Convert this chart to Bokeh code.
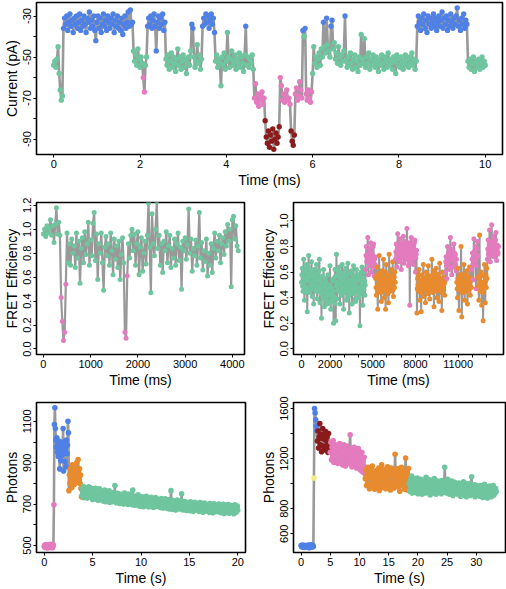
from bokeh.plotting import figure
from bokeh.layouts import column, row
from bokeh.models import FixedTicker, ColumnDataSource, Range1d
from bokeh.embed import file_html
from bokeh.resources import INLINE

# ---------------- data ----------------
COLORS = {"G": "#6FC59E", "B": "#4F80E6", "P": "#E37BBE",
          "R": "#8B1A1A", "O": "#E88B2E", "Y": "#F2EE7C"}

# Panel 1: current (pA), sampled every 0.025 ms
P1_STEP = 0.025
P1_SEGMENTS = [
    ("G", [-54, -52, -55, -51, -45, -58, -66, -71, -69]),
    ("B", [-36, -31, -34, -30, -37, -33, -29, -35, -32, -38,
           -31, -34, -30, -36, -33, -29, -37, -32, -35, -30,
           -34, -38, -31, -33, -28, -36, -32, -35, -30, -37,
           -42, -33, -30, -36, -31, -38, -34, -29, -35, -32,
           -37, -30, -33, -36, -31, -34, -29, -38, -32, -35,
           -30, -36, -33, -37, -31, -39, -34, -30, -36, -33,
           -28, -35, -27, -34, -33]),
    ("G", [-47, -52, -49, -54, -46, -51, -55, -50, -53]),
    ("P", [-60, -67]),
    ("G", [-54, -50]),
    ("B", [-35, -31, -34, -30, -36, -32, -29, -35, -47, -33, -30, -36, -31, -34, -29, -37, -33]),
    ("G", [-51, -54, -49, -56, -52, -48, -55, -50, -53, -57, -51, -46, -54, -50, -56, -52,
           -49, -55, -51, -58, -53, -50, -54, -47]),
    ("B", [-34, -36]),
    ("G", [-50, -55, -52, -44, -53, -49, -56, -51]),
    ("B", [-35, -31, -34, -29, -33, -30, -36, -32, -29, -34, -31, -38]),
    ("G", [-52, -49, -55, -51, -53, -64, -50, -54, -48, -56, -52, -38, -50, -55, -51, -47,
           -54, -52, -49, -56, -51, -53, -48, -55, -50, -53, -57, -49]),
    ("B", [-35]),
    ("G", [-54, -50, -55, -51, -53, -49, -56]),
    ("P", [-70, -63, -72, -68, -74, -69, -71, -67, -73, -70]),
    ("R", [-81, -89, -92, -86, -94, -88, -91, -85, -95, -90, -87, -92, -89, -84]),
    ("P", [-60, -64, -71, -68, -72, -69, -66, -71, -70, -73]),
    ("R", [-86, -91, -93, -88]),
    ("P", [-68, -65, -71, -69, -62, -66, -70]),
    ("B", [-37]),
    ("G", [-40]),
    ("B", [-36]),
    ("P", [-68, -71, -66, -70, -72, -67]),
    ("G", [-58, -45, -53, -50, -55, -51, -48, -54, -46, -50]),
    ("B", [-33]),
    ("G", [-45, -48]),
    ("B", [-31]),
    ("G", [-44, -47, -50]),
    ("B", [-35, -32]),
    ("G", [-46, -43, -51, -48, -53, -45, -50, -54, -49, -52, -47]),
    ("B", [-30]),
    ("G", [-52, -55, -50, -54, -48, -53, -56, -51, -49, -55,
           -52, -57, -50, -54, -39, -51, -53, -41, -55, -50,
           -53, -48, -56, -51, -54, -49, -52, -55, -50, -53,
           -57, -51, -54, -49, -53, -56, -50, -52, -55, -48,
           -54, -51, -53, -56, -50, -52, -58, -49, -54, -51,
           -55, -50, -53, -56, -52, -49, -54, -51, -55, -50,
           -53, -48, -54, -51, -56, -52]),
    ("B", [-35, -30, -33, -37, -31, -34, -29, -36, -32, -38,
           -30, -34, -31, -36, -33, -29, -35, -31, -37, -33,
           -30, -35, -32, -28, -36, -31, -34, -30, -37, -32,
           -35, -29, -33, -36, -31, -34, -30, -26, -35, -32,
           -37, -31, -34, -29, -36, -32, -34]),
    ("G", [-52, -55, -51, -56, -53, -50, -57, -54, -52, -55, -51, -56, -53, -50, -55, -52, -54]),
]
P1_XTICKS = [0, 2, 4, 6, 8, 10]
P1_XLABELS = ["0", "2", "4", "6", "8", "10"]
P1_YTICKS = [-90, -80, -70, -60, -50, -40, -30]
P1_YLABELS = ["-90", "", "-70", "", "-50", "", "-30"]

# Panel 2: FRET efficiency (x100), every 25 ms
P2_STEP = 25
P2_SEGMENTS = [
    ("G", [96, 100, 94, 103, 97, 101, 108, 95, 103, 89, 104, 118, 96, 106, 95]),
    ("P", [43, 23, 7, 14, 54]),
    ("G", [97, 72, 88, 70, 92, 80, 86, 68, 97, 76, 90, 55, 84, 93, 72, 98, 79, 88, 106, 70,
           91, 78, 105, 114, 74, 96, 58, 88, 80, 97, 72, 49, 85, 94, 78, 88, 70, 97, 82, 62,
           92, 75, 86, 68, 90, 58, 79, 93, 72]),
    ("P", [14, 9, 61]),
    ("G", [88, 76, 95, 100, 82, 96, 70, 88, 98, 62, 85, 93, 65, 80, 90, 71, 95, 122,
           85, 47, 113, 88, 78, 100, 123, 84, 95, 70, 88, 64, 90, 82, 98, 72, 86, 95, 68, 84,
           76, 92, 70, 88, 97, 74, 85, 50, 90, 82, 93, 75, 87, 117, 80, 92, 65, 84, 78, 91,
           70, 86, 114, 76, 89, 66, 82, 73, 92, 61, 80, 70, 88, 64, 84, 97, 76, 90, 82, 95,
           72, 88, 93, 79, 98, 86, 104, 90, 100, 52, 108, 111, 92, 103, 86, 82]),
]
P2_XTICKS = [0, 1000, 2000, 3000, 4000]
P2_XLABELS = ["0", "1000", "2000", "3000", "4000"]
P2_YTICKS = [0.0, 0.2, 0.4, 0.6, 0.8, 1.0, 1.2]
P2_YLABELS = ["0.0", "0.2", "0.4", "0.6", "0.8", "1.0", "1.2"]

# Panel 3: FRET efficiency (x100), every 25 ms
P3_STEP = 25
P3_SEGMENTS = [
    ("G", [52, 58, 63, 49, 45, 56, 70, 51, 38, 60, 55, 44, 48, 62, 66, 53, 29, 47, 58, 64,
           73, 55, 44, 59, 60, 46, 50, 57, 68, 52, 41, 61, 57, 48, 35, 54, 62, 50, 47, 58,
           54, 45, 66, 53, 39, 56, 59, 49, 45, 61, 70, 47, 36, 55, 52, 43, 24, 50, 48, 57,
           40, 51, 62, 44, 33, 49, 55, 39, 38, 52, 46, 41, 35, 47, 58, 43, 42, 36, 37, 50,
           65, 42, 31, 48, 44, 38, 37, 54, 53, 45, 20, 40, 41, 56, 62, 35, 22, 49, 74, 52,
           39, 58, 57, 46, 45, 60, 64, 50, 35, 55, 51, 44, 42, 59, 66, 47, 48, 53, 31, 57,
           56, 49, 44, 61, 63, 52, 38, 47, 52, 58, 67, 45, 41, 54, 28, 50, 59, 43, 46, 60,
           61, 52, 35, 48, 54, 57, 65, 46, 43, 55, 50, 39, 37, 53, 62, 49, 47, 58, 56, 44,
           40, 55, 58, 47, 18, 43, 53, 60, 45, 51, 64, 49, 34, 56, 51, 46, 60, 53, 42, 50]),
    ("P", [62, 73, 80, 68, 71, 79, 87, 74, 58, 70, 76, 65, 66, 78, 83, 71, 60, 75, 74, 68,
           69, 80, 82, 64, 57, 70, 72, 66]),
    ("O", [55, 48, 42, 57, 64, 50, 31, 45, 50, 59, 73, 54, 46, 52, 58, 44, 37, 51, 61, 47,
           48, 56, 70, 53, 40, 49, 53, 60, 31, 46, 66, 55, 44, 50, 57, 43, 36, 52, 74, 58,
           52, 47, 45, 55, 62, 51, 49, 57, 68, 46, 41, 53, 56, 48, 60, 52]),
    ("P", [70, 76, 82, 73, 64, 78, 90, 80, 75, 69, 68, 77, 86, 74, 78, 83, 62, 71, 80, 75,
           73, 79, 88, 72, 67, 76, 77, 82, 84, 73, 70, 78, 94, 81, 79, 70, 65, 76, 83, 72,
           34, 68, 76, 81, 87, 74, 72, 79, 81, 70, 66, 75, 78, 83, 85, 72, 60, 71, 74, 77]),
    ("O", [28, 47, 55, 50, 45, 58, 62, 49, 38, 53, 51, 44, 29, 48, 58, 54, 47, 56, 66, 50,
           41, 52, 54, 46, 36, 51, 60, 55, 49, 44, 43, 57, 65, 50, 52, 46, 39, 53, 57, 48,
           46, 55, 70, 52, 44, 58, 61, 47, 33, 50, 55, 45, 48, 59, 63, 51, 40, 47, 52, 56,
           58, 49, 37, 51, 67, 54, 45, 50, 53, 44, 30, 48, 60, 55, 49, 46, 56, 51, 42, 53]),
    ("P", [60, 68, 72, 65, 55, 70, 80, 73, 66, 75, 76, 69, 62, 74, 87, 77, 70, 64, 58, 71,
           78, 72, 64, 70, 82, 75, 68, 73, 74, 66, 61, 70]),
    ("O", [52, 47, 40, 55, 63, 50, 30, 46, 55, 58, 47, 53, 80, 57, 25, 44, 58, 51, 44, 54,
           66, 50, 38, 47, 53, 58, 49, 45, 61, 52, 35, 48, 57, 51, 46, 55, 64, 49, 42, 53,
           55, 48]),
    ("P", [62, 70, 75, 66, 54, 72, 86, 76, 68, 74, 80, 69, 47, 65, 72, 78, 84, 73]),
    ("O", [56, 49, 38, 55, 89, 52, 45, 58, 60, 47, 34, 50, 52, 44, 22, 46, 48, 57, 66, 51,
           36, 53, 58, 48, 63, 55]),
    ("P", [70, 78, 85, 74, 76, 82, 93, 79, 68, 76, 80, 73, 97, 84, 74, 80, 88, 77, 72, 81,
           83, 76, 78, 85, 91, 79, 69, 77, 81, 74, 75, 80]),
]
P3_XTICKS = [0, 1000, 2000, 3000, 4000, 5000, 6000, 7000, 8000, 9000, 10000, 11000, 12000, 13000]
P3_XLABELS = ["0", "", "2000", "", "", "5000", "", "", "8000", "", "", "11000", "", ""]
P3_YTICKS = [0.0, 0.2, 0.4, 0.6, 0.8, 1.0]
P3_YLABELS = ["0.0", "0.2", "0.4", "0.6", "0.8", "1.0"]

# Panel 4: photons, every 0.05 s
P4_STEP = 0.05
P4_SEGMENTS = [
    ("P", [495, 502, 490, 498, 505, 493, 500, 488, 497, 503, 492, 499, 506, 491, 500, 494,
           504, 489, 498, 502, 697]),
    ("B", [1085, 1166, 1065, 1010, 975, 1020, 950, 990, 930, 1005, 945, 870, 965, 910, 1000,
           935, 985, 940, 1065, 860, 955, 1000, 905, 970, 880, 1010, 945, 985, 1100, 1045]),
    ("O", [765, 840, 800, 870, 820, 855, 780, 890, 835, 810, 860, 795, 875, 825, 845, 805,
           900, 830, 815, 915, 850, 820, 870, 800, 840, 775, 735]),
    ("G", [740, 772, 758, 785, 731, 766, 749, 780, 738, 762, 775, 729, 757, 744, 783, 752, 736, 769, 747, 778,
           733, 764, 722, 771, 748, 729, 760, 741, 776, 725, 755, 737, 768, 719, 752, 744, 774, 731, 759, 726,
           747, 721, 762, 735, 715, 754, 728, 768, 740, 712, 751, 733, 759, 718, 745, 726, 764, 709, 739, 750,
           722, 748, 711, 740, 727, 756, 715, 733, 790, 720, 745, 707, 738, 724, 752, 714, 730, 744, 703, 736,
           718, 747, 709, 735, 722, 741, 700, 728, 753, 712, 730, 705, 744, 717, 736, 698, 726, 748, 711, 733,
           704, 729, 715, 742, 697, 768, 720, 708, 734, 695, 723, 711, 739, 701, 726, 716, 745, 692, 719, 731,
           700, 725, 690, 718, 735, 703, 714, 687, 729, 708, 696, 722, 711, 738, 693, 716, 705, 727, 686, 713,
           721, 698, 710, 733, 689, 715, 702, 726, 684, 708, 719, 695, 731, 700, 712, 688, 724, 706, 693, 717,
           696, 720, 683, 709, 727, 690, 714, 700, 681, 718, 705, 693, 725, 687, 711, 698, 716, 679, 703, 721,
           692, 712, 676, 705, 765, 688, 700, 718, 674, 694, 709, 683, 714, 697, 671, 706, 690, 720, 680, 701,
           688, 710, 676, 699, 716, 683, 750, 693, 707, 672, 698, 685, 712, 679, 702, 690, 669, 708, 684, 696,
           680, 703, 692, 668, 711, 686, 698, 674, 705, 689, 665, 700, 683, 709, 677, 694, 671, 702, 687, 697,
           676, 699, 665, 690, 707, 681, 694, 670, 702, 684, 661, 696, 679, 705, 673, 688, 667, 698, 682, 692,
           672, 695, 684, 660, 703, 678, 690, 667, 699, 681, 658, 693, 675, 701, 670, 686, 663, 697, 680, 689,
           669, 692, 676, 700, 662, 686, 673, 696, 658, 683, 690, 666, 699, 677, 655, 688, 671, 694, 680, 664,
           685, 667, 698, 672, 656, 689, 676, 694, 660, 681, 670, 692, 665, 687, 653, 679, 696, 668, 684, 662,
           678, 690, 670]),
]
P4_XTICKS = [0, 5, 10, 15, 20]
P4_XLABELS = ["0", "5", "10", "15", "20"]
P4_YTICKS = [500, 600, 700, 800, 900, 1000, 1100]
P4_YLABELS = ["500", "", "700", "", "900", "", "1100"]

# Panel 5: photons, every 0.1 s
P5_STEP = 0.1
P5_SEGMENTS = [
    ("B", [505, 496, 510, 493, 502, 508, 491, 500, 506, 497, 503, 494, 509, 499, 488, 504,
           497, 511, 492, 501, 507, 498]),
    ("Y", [1045]),
    ("B", [1600, 1565, 1510, 1460, 1425]),
    ("R", [1340, 1420, 1285, 1375, 1480, 1310, 1395, 1255, 1360, 1440, 1300, 1385, 1270,
           1350, 1415, 1295, 1370, 1330, 1250, 1400, 1320, 1280]),
    ("P", [1250, 1330, 1190, 1290, 1215, 1345, 1170, 1270, 1235, 1310,
           1180, 1300, 1225, 1160, 1285, 1240, 1320, 1175, 1260, 1205,
           1295, 1150, 1245, 1310, 1195, 1270, 1140, 1230, 1300, 1185,
           1255, 1215, 1160, 1280, 1390, 1200, 1245, 1135, 1275, 1220,
           1170, 1290, 1205, 1150, 1260, 1125, 1235, 1190, 1280, 1145,
           1225, 1110, 1200, 1160, 1250, 1095, 1185, 1140, 1210, 1080]),
    ("O", [1040, 1110, 985, 1070, 1130, 1005, 1085, 960, 1050, 1120,
           995, 1065, 1140, 975, 1035, 1095, 955, 1060, 1015, 1105,
           980, 1075, 1030, 1125, 945, 1055, 1090, 1000, 1150, 970,
           1045, 1115, 990, 1080, 1020, 960, 1100, 1035, 1135, 980,
           1060, 1010, 1095, 950, 1070, 1125, 1000, 1050, 1085, 965,
           1040, 1235, 1010, 1110, 975, 1065, 1120, 995, 1055, 940,
           1090, 1025, 1130, 985, 1060, 1005, 1100, 955, 1045, 1205,
           1000, 1080, 950, 1040, 1120]),
    ("G", [1000, 940, 1030, 965, 1060, 925, 985, 1015, 950, 1040,
           975, 930, 1010, 960, 1045, 920, 995, 1025, 945, 980,
           1035, 955, 915, 990, 1020, 940, 1005, 965, 925, 1050,
           970, 1010, 935, 985, 950, 1030, 910, 995, 960, 1015,
           945, 980, 925, 1040, 965, 1000, 915, 985, 950, 1020,
           930, 975, 1005, 940, 990, 920, 1025, 960, 1000, 935,
           985, 1130, 950, 1010, 925, 970, 1035, 945, 990, 915,
           1000, 955, 930, 1020, 965, 905, 985, 945, 1010, 925,
           970, 935, 995, 915, 960, 1005, 940, 980, 900, 965,
           925, 990, 950, 1015, 910, 975, 940, 1000, 895, 955,
           985, 920, 965, 935, 1000, 905, 950, 1055, 930, 975,
           915, 960, 990, 895, 945, 925, 985, 910, 955, 935,
           970, 900, 940, 985, 920, 955, 890, 965, 930, 995,
           910, 950, 925, 975, 885, 945, 960, 905, 980, 920,
           940, 895, 965, 930, 985, 910, 950, 925, 960, 935]),
]
P5_XTICKS = [0, 5, 10, 15, 20, 25, 30]
P5_XLABELS = ["0", "5", "10", "15", "20", "25", "30"]
P5_YTICKS = [600, 800, 1000, 1200, 1400, 1600]
P5_YLABELS = ["600", "800", "", "1200", "", "1600"]

# ---------------- helpers ----------------
FONT = "Liberation Sans"


def expand(segments, step, scale=1.0):
    xs, ys, cs = [], [], []
    i = 0
    for state, vals in segments:
        for v in vals:
            xs.append(i * step)
            ys.append(v * scale)
            cs.append(COLORS[state])
            i += 1
    return ColumnDataSource(dict(x=xs, y=ys, c=cs))


def panel(segments, step, scale, xr, yr, xticks, xlabels, yticks, ylabels,
          xtitle, ytitle, w, h, borders, lw=2.6, size=5.6):
    l, r, t, b = borders
    p = figure(width=w, height=h, x_range=Range1d(*xr), y_range=Range1d(*yr),
               output_backend="svg", toolbar_location=None,
               min_border_left=l, min_border_right=r, min_border_top=t, min_border_bottom=b)
    p.background_fill_color = "white"
    p.border_fill_color = "white"
    p.outline_line_color = "black"
    p.outline_line_width = 1.6
    p.outline_line_alpha = 1.0
    p.xgrid.visible = False
    p.ygrid.visible = False
    src = expand(segments, step, scale)
    p.line("x", "y", source=src, line_color="#999999", line_width=lw)
    p.scatter("x", "y", source=src, size=size, fill_color="c", line_color=None)
    for ax, ticks, labels, title in ((p.xaxis[0], xticks, xlabels, xtitle),
                                     (p.yaxis[0], yticks, ylabels, ytitle)):
        ax.ticker = FixedTicker(ticks=ticks)
        ax.major_label_overrides = {tk: lab for tk, lab in zip(ticks, labels)}
        ax.axis_line_color = None
        ax.major_tick_line_color = "black"
        ax.major_tick_line_width = 1
        ax.major_tick_out = 3
        ax.major_tick_in = 0
        ax.minor_tick_line_color = None
        ax.major_label_text_font = FONT
        ax.major_label_text_font_size = "11px"
        ax.major_label_text_color = "black"
        ax.major_label_standoff = 2
        ax.axis_label = title
        ax.axis_label_text_font = FONT
        ax.axis_label_text_font_size = "14px"
        ax.axis_label_text_font_style = "normal"
        ax.axis_label_text_color = "black"
        ax.axis_label_standoff = 1
    p.yaxis[0].major_label_orientation = "vertical"
    return p


p1 = panel(P1_SEGMENTS, P1_STEP, 1.0, (-0.4, 10.4), (-97.5, -23.4),
           P1_XTICKS, P1_XLABELS, P1_YTICKS, P1_YLABELS,
           "Time (ms)", "Current (pA)", 506, 190, (33, 4, 2, 31), lw=2.6, size=5.4)
p2 = panel(P2_SEGMENTS, P2_STEP, 0.01, (-146, 4257), (-0.046, 1.224),
           P2_XTICKS, P2_XLABELS, P2_YTICKS, P2_YLABELS,
           "Time (ms)", "FRET Efficiency", 253, 200, (33, 9, 12, 31), lw=2.2, size=5.0)
p3 = panel(P3_SEGMENTS, P3_STEP, 0.01, (-565, 14180), (-0.044, 1.144),
           P3_XTICKS, P3_XLABELS, P3_YTICKS, P3_YLABELS,
           "Time (ms)", "FRET Efficiency", 253, 200, (40, 3, 12, 31), lw=2.0, size=5.0)
p4 = panel(P4_SEGMENTS, P4_STEP, 1.0, (-0.8, 20.8), (466, 1191),
           P4_XTICKS, P4_XLABELS, P4_YTICKS, P4_YLABELS,
           "Time (s)", "Photons", 253, 198, (33, 8, 12, 29), lw=2.6, size=5.6)
p5 = panel(P5_SEGMENTS, P5_STEP, 1.0, (-1.3, 35.0), (450, 1648),
           P5_XTICKS, P5_XLABELS, P5_YTICKS, P5_YLABELS,
           "Time (s)", "Photons", 253, 198, (40, 1, 12, 29), lw=2.6, size=5.6)

layout = column(p1, row(p2, p3), row(p4, p5))

with open("out.html", "w") as f:
    f.write(file_html(layout, INLINE))
